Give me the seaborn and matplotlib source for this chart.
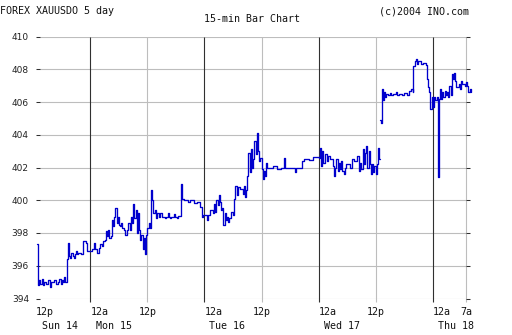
import numpy as np
import pandas as pd
import matplotlib
matplotlib.use("Agg")
import matplotlib.pyplot as plt
import seaborn as sns

# ---- data: hours since Sun 12p, gold price (15-min bars, change points) ----
sun_hours = [0.75, 1.0, 1.25, 1.5, 1.75, 2.0, 2.25, 2.75, 3.0, 3.5, 3.75, 4.25, 4.75, 5.25, 5.5,
             5.75, 6.0, 6.25, 6.5, 6.75, 7.0, 7.25, 7.5, 7.75, 8.0, 8.25, 8.5, 8.75, 9.0, 9.25,
             9.5, 10.0, 10.5, 11.0, 11.25]
sun_price = [397.3, 394.8, 395.1, 394.9, 395.2, 394.8, 395.0, 394.9, 395.1, 394.7, 395.0, 395.1, 394.9, 395.0, 395.2,
             394.9, 395.1, 395.0, 395.3, 395.0, 396.4, 397.4, 396.6, 396.5, 396.8, 396.6, 396.5, 396.7, 396.9, 396.7,
             396.8, 396.7, 397.5, 397.4, 396.9]

mon_hours = [12.0, 12.25, 12.75, 13.0, 13.5, 13.75, 14.0, 14.5, 14.75, 15.0, 15.25, 15.5, 15.75, 16.0, 16.25,
             16.5, 16.75, 17.0, 17.25, 17.5, 17.75, 18.0, 18.25, 18.5, 18.75, 19.0, 19.25, 19.75, 20.0, 20.25,
             20.5, 20.75, 21.0, 21.25, 21.5, 21.75, 22.0, 22.25, 22.5, 22.75, 23.0, 23.25, 23.5, 23.75, 24.0,
             24.25, 24.5, 24.75, 25.0, 25.25, 25.5, 25.75, 26.0,
             26.5, 26.75, 27.0, 27.75, 28.0, 28.25, 28.5, 28.75, 29.0, 29.5, 29.75, 30.25, 30.5,
             31.0, 31.25, 31.75, 32.5, 33.0, 33.75, 34.5, 35.0, 35.5, 35.75]
mon_price = [396.9, 397.0, 397.4, 397.0, 396.8, 397.1, 397.3, 397.2, 397.5, 397.6, 398.1, 397.8, 398.2, 397.7, 397.8,
             398.8, 398.4, 399.0, 399.5, 398.6, 399.0, 398.5, 398.4, 398.6, 398.3, 398.2, 397.9, 398.2, 398.6, 398.2,
             399.0, 398.6, 399.8, 398.9, 399.4, 398.0, 399.2, 398.2, 397.6, 397.9, 397.0, 397.7, 396.7, 397.9, 398.3,
             398.6, 398.3, 400.6, 400.0, 399.2, 399.4, 398.9, 399.2,
             399.0, 399.2, 399.0, 398.9, 399.0, 399.2, 399.0, 398.9, 399.0, 399.15, 399.0, 398.9, 399.05,
             401.0, 400.1, 400.0, 399.9, 400.0, 399.85, 399.9, 399.6, 399.0, 399.1]

tue_hours = [36.5, 36.75, 37.25, 37.75, 38.0, 38.25, 38.5, 38.75, 39.0, 39.25, 39.5, 39.75, 40.0, 40.25, 40.5,
             40.75, 41.0, 41.25, 41.5, 42.0, 42.25, 42.5, 42.75, 43.0, 43.5, 44.0, 44.25, 44.5, 44.75, 45.0,
             45.25, 45.5, 45.75, 46.0, 46.25, 46.5, 46.75, 47.0, 47.25, 47.5, 47.75, 48.0, 48.25, 48.5, 48.75,
             49.0, 49.25, 50.5, 51.25, 52.0, 52.75, 53.0, 54.5, 55.0, 55.25, 56.5, 57.0, 58.0, 58.75]
tue_price = [398.8, 399.1, 399.4, 399.2, 399.8, 399.3, 400.0, 399.7, 400.3, 399.9, 399.4, 399.5, 398.5, 399.2, 398.8,
             399.0, 398.7, 398.9, 399.3, 399.1, 400.1, 400.9, 400.3, 400.8, 400.7, 400.4, 400.9, 400.2, 400.6, 401.5,
             402.9, 401.7, 403.1, 402.0, 402.5, 403.6, 402.8, 404.1, 403.0, 402.4, 402.6, 401.9, 401.3, 401.8, 401.5,
             402.3, 402.0, 402.1, 401.9, 402.0, 402.6, 402.0, 401.95, 401.7, 402.0, 402.4, 402.5, 402.45, 402.65]

wed_hours = [60.0, 60.25, 60.5, 60.75, 61.0, 61.25, 61.75, 62.0, 62.5, 63.0, 63.25, 63.5, 63.75, 64.0, 64.25,
             64.5, 64.75, 65.0, 65.25, 65.5, 65.75, 66.5, 67.0, 67.5, 68.0, 68.5, 68.75, 69.0, 69.25, 69.5,
             69.75, 70.0, 70.25, 70.5, 70.75, 71.0, 71.25, 71.5, 71.75, 72.0, 72.25, 72.5, 72.75, 72.9]
wed_price = [402.6, 403.2, 402.1, 403.0, 402.3, 402.8, 402.4, 402.7, 402.5, 402.1, 401.5, 402.0, 402.5, 401.8, 402.3,
             401.9, 402.4, 401.8, 401.6, 402.0, 402.2, 402.0, 402.5, 402.4, 402.7, 401.8, 402.3, 401.9, 403.1, 402.2,
             402.9, 403.3, 402.0, 403.0, 402.2, 401.6, 402.2, 401.7, 402.1, 401.6, 402.2, 403.2, 402.5, 402.5]

# after the data gap on Wednesday afternoon
thu_hours = [73.0, 73.1, 73.3, 73.5, 73.75, 74.0, 74.25, 74.5, 75.0, 75.25, 75.75, 76.25, 76.5, 77.0, 77.5,
             78.0, 78.5, 79.0, 79.5, 79.75, 79.9, 80.25, 80.5, 80.75, 81.0, 81.5, 82.0, 82.5, 82.75, 83.0,
             83.25, 83.5, 83.75, 84.0, 84.25, 84.5, 85.0, 85.15, 85.3, 85.5, 85.75, 86.0, 86.25, 86.5, 86.75,
             87.0, 87.25, 87.5, 87.75, 88.0, 88.25, 88.5, 88.75, 89.0, 89.5, 89.75, 90.0, 90.25, 90.75, 91.0,
             91.25, 91.5, 91.75, 92.0]
thu_price = [404.9, 404.7, 406.8, 406.1, 406.6, 406.3, 406.5, 406.4, 406.55, 406.4, 406.5, 406.6, 406.4, 406.5, 406.45,
             406.55, 406.45, 406.7, 406.8, 406.6, 408.2, 408.5, 408.6, 408.3, 408.5, 408.3, 408.4, 408.25, 407.4, 406.9,
             406.6, 405.6, 406.3, 405.7, 406.3, 406.1, 406.3, 401.45, 406.2, 406.8, 406.2, 406.6, 406.3, 406.7, 406.4,
             406.6, 406.3, 407.0, 406.4, 407.7, 407.4, 407.8, 407.3, 406.9, 407.1, 406.8, 407.3, 407.1, 407.0, 407.2,
             407.0, 406.6, 406.8, 406.6]

y_ticks = [394, 396, 398, 400, 402, 404, 406, 408, 410]
midnight_hours = [12, 36, 60, 84]
noon_hours = [24, 48, 72, 91]
time_labels = ["12p", "12a", "12p", "12a", "12p", "12a", "12p", "12a", "7a"]
time_label_hours = [0.6, 12, 24, 36, 48, 60, 72, 84, 91]
time_label_align = ["left", "left", "center", "left", "center", "left", "center", "left", "center"]
day_labels = ["Sun 14", "Mon 15", "Tue 16", "Wed 17", "Thu 18"]
day_label_hours = [1.8, 13.2, 37.0, 61.2, 85.05]

# ---- build frame ----
seg_a_h = sun_hours + mon_hours + tue_hours + wed_hours
seg_a_p = sun_price + mon_price + tue_price + wed_price
df = pd.DataFrame({
    "hour": seg_a_h + thu_hours,
    "price": seg_a_p + thu_price,
    "segment": [0] * len(seg_a_h) + [1] * len(thu_hours),
})

sns.set_theme(style="white")
plt.rcParams["font.family"] = ["DejaVu Sans"]

fig = plt.figure(figsize=(5.12, 3.35), dpi=100)
fig.patch.set_facecolor("white")
ax = fig.add_axes([40 / 512, 36.5 / 335, 426 / 512, 262 / 335])
ax.set_facecolor("white")

grid_gray = "#bdbdbd"
dark = "#303030"
for v in y_ticks:
    ax.axhline(v, color=grid_gray, lw=0.8, zorder=0)
ax.vlines(noon_hours, 393.76, 410, colors=grid_gray, lw=0.8, zorder=0, clip_on=False)
ax.vlines(midnight_hours, 393.76, 410, colors=dark, lw=0.8, zorder=1, clip_on=False)

sns.lineplot(data=df, x="hour", y="price", units="segment", estimator=None, sort=False,
             color="#0000cc", lw=0.95, drawstyle="steps-post", ax=ax, legend=False,
             zorder=3, clip_on=False)

ax.set_xlim(1.41, 91)
ax.set_ylim(394, 410)
ax.set_yticks(y_ticks)
ax.set_yticklabels([str(v) for v in y_ticks])
ax.set_xticks([])
ax.set_xlabel("")
ax.set_ylabel("")
for s in ax.spines.values():
    s.set_visible(False)
ax.tick_params(axis="y", left=True, right=True, labelleft=True, labelright=False,
               direction="out", length=2.9, width=0.75, color=dark, pad=5,
               labelsize=6.5, labelcolor="#222222")

mono = "DejaVu Sans Mono"
trans = ax.get_xaxis_transform()
for lab, h, al in zip(time_labels, time_label_hours, time_label_align):
    ax.text(h, -0.0534, lab, transform=trans, ha=al, va="center",
            family=mono, fontsize=7.2, color="#111111")
for lab, h in zip(day_labels, day_label_hours):
    ax.text(h, -0.105, lab, transform=trans, ha="left", va="center",
            family=mono, fontsize=7.2, color="#111111")

fig.text(0.0, 1 - 11 / 335, "FOREX XAUUSDO 5 day", ha="left", va="center",
         family=mono, fontsize=7.2, color="#111111")
fig.text(469 / 512, 1 - 11 / 335, "(c)2004 INO.com", ha="right", va="center",
         family=mono, fontsize=7.2, color="#111111")
fig.text(251.7 / 512, 1 - 19 / 335, "15-min Bar Chart", ha="center", va="center",
         family=mono, fontsize=7.2, color="#111111")

fig.savefig("out.png", dpi=100, facecolor="white")
